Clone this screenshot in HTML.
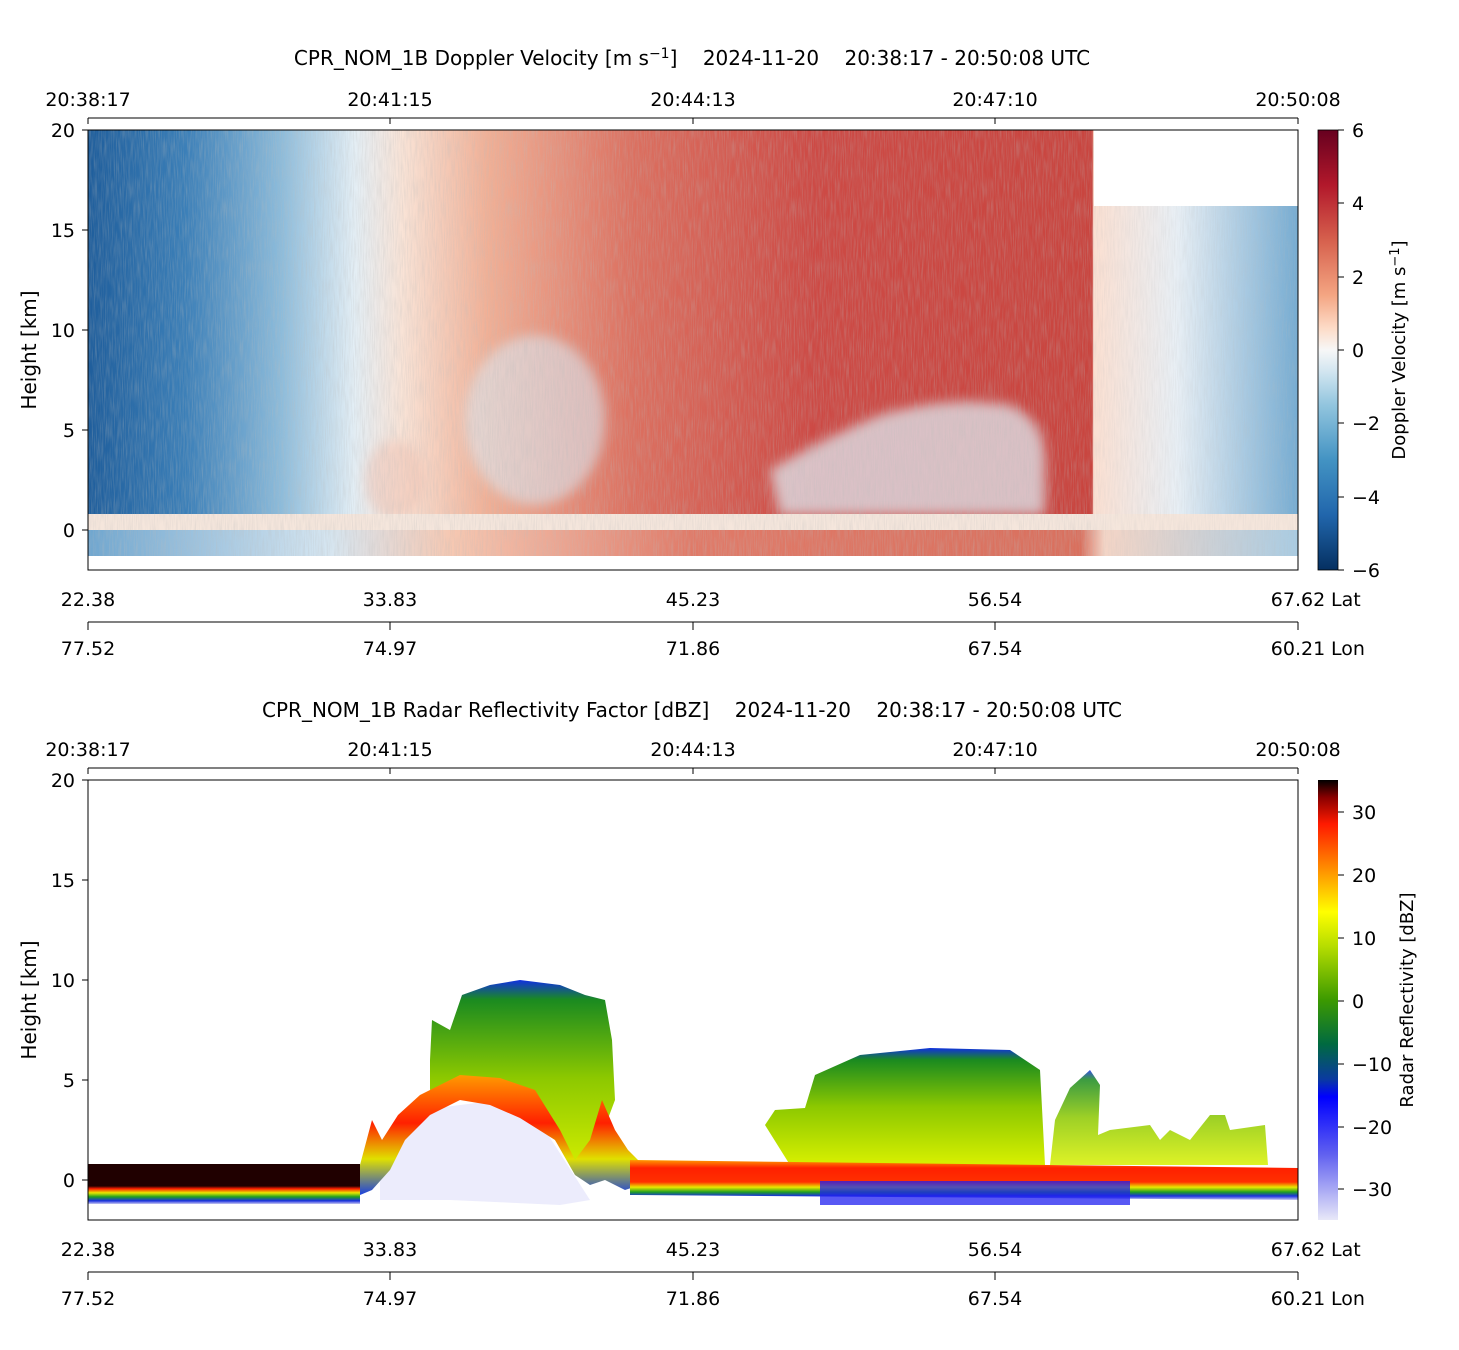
<!DOCTYPE html>
<html><head><meta charset="utf-8"><style>
html,body{margin:0;padding:0;background:#fff;}
svg{display:block;font-family:"DejaVu Sans","Liberation Sans",sans-serif;}
.t{white-space:pre;}
</style></head><body>
<svg width="1459" height="1350" viewBox="0 0 1459 1350" xmlns="http://www.w3.org/2000/svg">
<defs>
<linearGradient id="dv" x1="0" x2="1" y1="0" y2="0">
<stop offset="0" stop-color="#1f5e9c"/>
<stop offset="0.08" stop-color="#3b7fb8"/>
<stop offset="0.16" stop-color="#8dbcdb"/>
<stop offset="0.22" stop-color="#e3eef5"/>
<stop offset="0.26" stop-color="#f9e3d6"/>
<stop offset="0.33" stop-color="#f1b096"/>
<stop offset="0.45" stop-color="#dc7060"/>
<stop offset="0.6" stop-color="#cd4a45"/>
<stop offset="0.83" stop-color="#c9453f"/>
<stop offset="0.831" stop-color="#fbe0d2"/>
<stop offset="0.9" stop-color="#e8eff5"/>
<stop offset="1" stop-color="#76acd2"/>
</linearGradient>
<linearGradient id="band" x1="0" x2="1">
<stop offset="0" stop-color="#6fa6cf"/>
<stop offset="0.2" stop-color="#d6e6f1"/>
<stop offset="0.3" stop-color="#f6c8b2"/>
<stop offset="0.5" stop-color="#e07a68"/>
<stop offset="0.82" stop-color="#d9705e"/>
<stop offset="0.84" stop-color="#f4d5c6"/>
<stop offset="1" stop-color="#a9cce3"/>
</linearGradient>
<linearGradient id="cb1" x1="0" x2="0" y1="0" y2="1">
<stop offset="0" stop-color="#67001f"/><stop offset="0.125" stop-color="#b2182b"/>
<stop offset="0.25" stop-color="#d6604d"/><stop offset="0.375" stop-color="#f4a582"/>
<stop offset="0.45" stop-color="#fddbc7"/><stop offset="0.5" stop-color="#f7f7f7"/>
<stop offset="0.55" stop-color="#d1e5f0"/><stop offset="0.625" stop-color="#92c5de"/>
<stop offset="0.75" stop-color="#4393c3"/><stop offset="0.875" stop-color="#2166ac"/>
<stop offset="1" stop-color="#053061"/>
</linearGradient>
<linearGradient id="cb2" x1="0" x2="0" y1="0" y2="1">
<stop offset="0" stop-color="#000000"/><stop offset="0.04" stop-color="#8a0000"/>
<stop offset="0.1" stop-color="#ff1a00"/><stop offset="0.2" stop-color="#ff8c00"/>
<stop offset="0.3" stop-color="#ffff00"/><stop offset="0.38" stop-color="#b4dc00"/>
<stop offset="0.5" stop-color="#3c9a00"/><stop offset="0.6" stop-color="#006a40"/>
<stop offset="0.68" stop-color="#0a3aa0"/><stop offset="0.72" stop-color="#0000ff"/>
<stop offset="0.85" stop-color="#6060f0"/><stop offset="1" stop-color="#e8e8f8"/>
</linearGradient>
<linearGradient id="cloud" x1="0" x2="0" y1="0" y2="1">
<stop offset="0" stop-color="#1030e0"/><stop offset="0.1" stop-color="#1a8a20"/>
<stop offset="0.5" stop-color="#8cc800"/><stop offset="1" stop-color="#d8f000"/>
</linearGradient>
<linearGradient id="surfR" x1="0" x2="0" y1="0" y2="1">
<stop offset="0" stop-color="#ff9a00"/><stop offset="0.2" stop-color="#ff2000"/>
<stop offset="0.55" stop-color="#ff3000"/><stop offset="0.68" stop-color="#e8e800"/>
<stop offset="0.8" stop-color="#20a020"/><stop offset="0.9" stop-color="#1a30e0"/>
<stop offset="1" stop-color="#c8c8f0"/>
</linearGradient>
<linearGradient id="surfL" x1="0" x2="0" y1="0" y2="1">
<stop offset="0" stop-color="#200000"/><stop offset="0.55" stop-color="#200000"/>
<stop offset="0.62" stop-color="#ff2000"/><stop offset="0.72" stop-color="#e8e800"/>
<stop offset="0.82" stop-color="#20a020"/><stop offset="0.92" stop-color="#1a30e0"/>
<stop offset="1" stop-color="#c8c8f0"/>
</linearGradient>
<linearGradient id="mtn" x1="0" x2="0" y1="0" y2="1">
<stop offset="0" stop-color="#ff9a00"/><stop offset="0.4" stop-color="#ff2000"/>
<stop offset="0.7" stop-color="#e0e000"/><stop offset="1" stop-color="#1a40e0"/>
</linearGradient>
<filter id="noise" x="0" y="0" width="100%" height="100%">
<feTurbulence type="fractalNoise" baseFrequency="0.9 0.05" numOctaves="2" seed="3"/>
<feColorMatrix values="0 0 0 0 0.5  0 0 0 0 0.5  0 0 0 0 0.5  0 0 0 1.6 -0.6"/>
</filter>
<filter id="blur"><feGaussianBlur stdDeviation="6"/></filter>
</defs>

<text class="t" x="692" y="65" font-size="20" text-anchor="middle">CPR_NOM_1B Doppler Velocity [m s<tspan dy="-7" font-size="14">−1</tspan><tspan dy="7">]    2024-11-20    20:38:17 - 20:50:08 UTC</tspan></text>
<rect x="88" y="130" width="1210" height="400" fill="url(#dv)"/>
<rect x="1094" y="130" width="204" height="76" fill="#fff"/>
<g filter="url(#blur)">
<ellipse cx="535" cy="420" rx="70" ry="85" fill="#dbe8f1" opacity="0.6"/>
<ellipse cx="395" cy="480" rx="30" ry="40" fill="#f0c0b0" opacity="0.5"/>
<path d="M770,470 Q820,440 880,415 Q950,395 1010,405 Q1045,420 1045,460 L1045,515 L780,515 Z" fill="#dfeaf2" opacity="0.75"/>
</g>
<rect x="88" y="514" width="1210" height="16" fill="#f5e6dc"/>
<rect x="88" y="530" width="1210" height="26" fill="url(#band)"/>
<rect x="88" y="130" width="1006" height="426" filter="url(#noise)" opacity="0.4"/>
<rect x="1094" y="206" width="204" height="350" filter="url(#noise)" opacity="0.25"/>
<rect x="88" y="130" width="1210" height="440" fill="none" stroke="#000"/>

<g font-size="19" text-anchor="end">
<text x="75" y="137">20</text><text x="75" y="237">15</text><text x="75" y="337">10</text><text x="75" y="437">5</text><text x="75" y="537">0</text>
</g>
<g stroke="#000"><line x1="82" x2="88" y1="130" y2="130"/><line x1="82" x2="88" y1="230" y2="230"/><line x1="82" x2="88" y1="330" y2="330"/><line x1="82" x2="88" y1="430" y2="430"/><line x1="82" x2="88" y1="530" y2="530"/></g>
<text x="36" y="350" font-size="20" text-anchor="middle" transform="rotate(-90 36 350)">Height [km]</text>

<line x1="88" x2="1298" y1="118" y2="118" stroke="#000"/>
<g stroke="#000"><line x1="88" x2="88" y1="118" y2="124"/><line x1="390" x2="390" y1="118" y2="124"/><line x1="693" x2="693" y1="118" y2="124"/><line x1="995" x2="995" y1="118" y2="124"/><line x1="1298" x2="1298" y1="118" y2="124"/></g>
<g font-size="19" text-anchor="middle"><text x="88" y="106">20:38:17</text><text x="390" y="106">20:41:15</text><text x="693" y="106">20:44:13</text><text x="995" y="106">20:47:10</text><text x="1298" y="106">20:50:08</text></g>
<g font-size="19" text-anchor="middle"><text x="88" y="606">22.38</text><text x="390" y="606">33.83</text><text x="693" y="606">45.23</text><text x="995" y="606">56.54</text><text x="1298" y="606">67.62</text>
<text x="88" y="655">77.52</text><text x="390" y="655">74.97</text><text x="693" y="655">71.86</text><text x="995" y="655">67.54</text><text x="1298" y="655">60.21</text></g>
<text x="1331" y="606" font-size="19">Lat</text><text x="1331" y="655" font-size="19">Lon</text>
<line x1="88" x2="1298" y1="622" y2="622" stroke="#000"/>
<g stroke="#000"><line x1="88" x2="88" y1="622" y2="630"/><line x1="390" x2="390" y1="622" y2="630"/><line x1="693" x2="693" y1="622" y2="630"/><line x1="995" x2="995" y1="622" y2="630"/><line x1="1298" x2="1298" y1="622" y2="630"/></g>

<rect x="1318" y="130" width="20" height="440" fill="url(#cb1)" stroke="#000" stroke-width="0.8"/>
<g stroke="#000"><line x1="1338" x2="1344" y1="130" y2="130"/><line x1="1338" x2="1344" y1="203" y2="203"/><line x1="1338" x2="1344" y1="277" y2="277"/><line x1="1338" x2="1344" y1="350" y2="350"/><line x1="1338" x2="1344" y1="423" y2="423"/><line x1="1338" x2="1344" y1="497" y2="497"/><line x1="1338" x2="1344" y1="570" y2="570"/></g>
<g font-size="19"><text x="1352" y="137">6</text><text x="1352" y="210">4</text><text x="1352" y="284">2</text><text x="1352" y="357">0</text><text x="1352" y="430">−2</text><text x="1352" y="504">−4</text><text x="1352" y="577">−6</text></g>
<text x="1405" y="350" font-size="18" text-anchor="middle" transform="rotate(-90 1405 350)">Doppler Velocity [m s<tspan dy="-6" font-size="13">−1</tspan><tspan dy="6">]</tspan></text>

<text class="t" x="692" y="717" font-size="20" text-anchor="middle">CPR_NOM_1B Radar Reflectivity Factor [dBZ]    2024-11-20    20:38:17 - 20:50:08 UTC</text>
<rect x="88" y="780" width="1210" height="440" fill="#fff"/>
<path d="M430,1060 L432,1020 L450,1030 L462,995 L490,985 L520,980 L560,985 L585,995 L605,1000 L612,1040 L615,1100 L600,1140 L580,1175 L555,1140 L520,1100 L470,1080 L430,1090 Z" fill="url(#cloud)"/>
<path d="M765,1125 L775,1110 L805,1108 L815,1075 L860,1055 L930,1048 L1010,1050 L1040,1070 L1045,1165 L790,1165 Z" fill="url(#cloud)"/>
<path d="M1050,1165 L1055,1120 L1070,1088 L1090,1070 L1100,1085 L1098,1135 L1110,1130 L1150,1125 L1160,1140 L1170,1130 L1190,1140 L1210,1115 L1225,1115 L1230,1130 L1265,1125 L1268,1165 Z" fill="url(#cloud)" opacity="0.85"/>
<path d="M380,1150 L420,1110 L500,1100 L545,1130 L590,1200 L560,1205 L450,1200 L380,1200 Z" fill="#8080e8" opacity="0.15"/>
<path d="M360,1165 L372,1120 L382,1140 L398,1115 L420,1095 L460,1075 L500,1078 L535,1090 L560,1130 L575,1160 L590,1140 L602,1100 L615,1130 L628,1150 L640,1162 L640,1185 L625,1190 L605,1180 L590,1185 L575,1175 L555,1140 L520,1118 L490,1105 L460,1100 L430,1115 L405,1140 L390,1170 L372,1190 L360,1195 Z" fill="url(#mtn)"/>
<rect x="88" y="1164" width="272" height="40" fill="url(#surfL)"/>
<path d="M630,1160 L1298,1168 L1298,1200 L630,1195 Z" fill="url(#surfR)"/>
<rect x="820" y="1181" width="310" height="24" fill="#2020f0" opacity="0.75"/>
<rect x="88" y="780" width="1210" height="440" fill="none" stroke="#000"/>
<g font-size="19" text-anchor="end">
<text x="75" y="787">20</text><text x="75" y="887">15</text><text x="75" y="987">10</text><text x="75" y="1087">5</text><text x="75" y="1187">0</text>
</g>
<g stroke="#000"><line x1="82" x2="88" y1="780" y2="780"/><line x1="82" x2="88" y1="880" y2="880"/><line x1="82" x2="88" y1="980" y2="980"/><line x1="82" x2="88" y1="1080" y2="1080"/><line x1="82" x2="88" y1="1180" y2="1180"/></g>
<text x="36" y="1000" font-size="20" text-anchor="middle" transform="rotate(-90 36 1000)">Height [km]</text>

<line x1="88" x2="1298" y1="768" y2="768" stroke="#000"/>
<g stroke="#000"><line x1="88" x2="88" y1="768" y2="774"/><line x1="390" x2="390" y1="768" y2="774"/><line x1="693" x2="693" y1="768" y2="774"/><line x1="995" x2="995" y1="768" y2="774"/><line x1="1298" x2="1298" y1="768" y2="774"/></g>
<g font-size="19" text-anchor="middle"><text x="88" y="756">20:38:17</text><text x="390" y="756">20:41:15</text><text x="693" y="756">20:44:13</text><text x="995" y="756">20:47:10</text><text x="1298" y="756">20:50:08</text></g>
<g font-size="19" text-anchor="middle"><text x="88" y="1256">22.38</text><text x="390" y="1256">33.83</text><text x="693" y="1256">45.23</text><text x="995" y="1256">56.54</text><text x="1298" y="1256">67.62</text>
<text x="88" y="1305">77.52</text><text x="390" y="1305">74.97</text><text x="693" y="1305">71.86</text><text x="995" y="1305">67.54</text><text x="1298" y="1305">60.21</text></g>
<text x="1331" y="1256" font-size="19">Lat</text><text x="1331" y="1305" font-size="19">Lon</text>
<line x1="88" x2="1298" y1="1272" y2="1272" stroke="#000"/>
<g stroke="#000"><line x1="88" x2="88" y1="1272" y2="1280"/><line x1="390" x2="390" y1="1272" y2="1280"/><line x1="693" x2="693" y1="1272" y2="1280"/><line x1="995" x2="995" y1="1272" y2="1280"/><line x1="1298" x2="1298" y1="1272" y2="1280"/></g>

<rect x="1318" y="780" width="20" height="440" fill="url(#cb2)"/>
<g stroke="#000"><line x1="1338" x2="1344" y1="812" y2="812"/><line x1="1338" x2="1344" y1="875" y2="875"/><line x1="1338" x2="1344" y1="938" y2="938"/><line x1="1338" x2="1344" y1="1001" y2="1001"/><line x1="1338" x2="1344" y1="1064" y2="1064"/><line x1="1338" x2="1344" y1="1127" y2="1127"/><line x1="1338" x2="1344" y1="1189" y2="1189"/></g>
<g font-size="19"><text x="1352" y="819">30</text><text x="1352" y="882">20</text><text x="1352" y="945">10</text><text x="1352" y="1008">0</text><text x="1352" y="1071">−10</text><text x="1352" y="1134">−20</text><text x="1352" y="1196">−30</text></g>
<text x="1413" y="1000" font-size="18" text-anchor="middle" transform="rotate(-90 1413 1000)">Radar Reflectivity [dBZ]</text>
</svg>
</body></html>
